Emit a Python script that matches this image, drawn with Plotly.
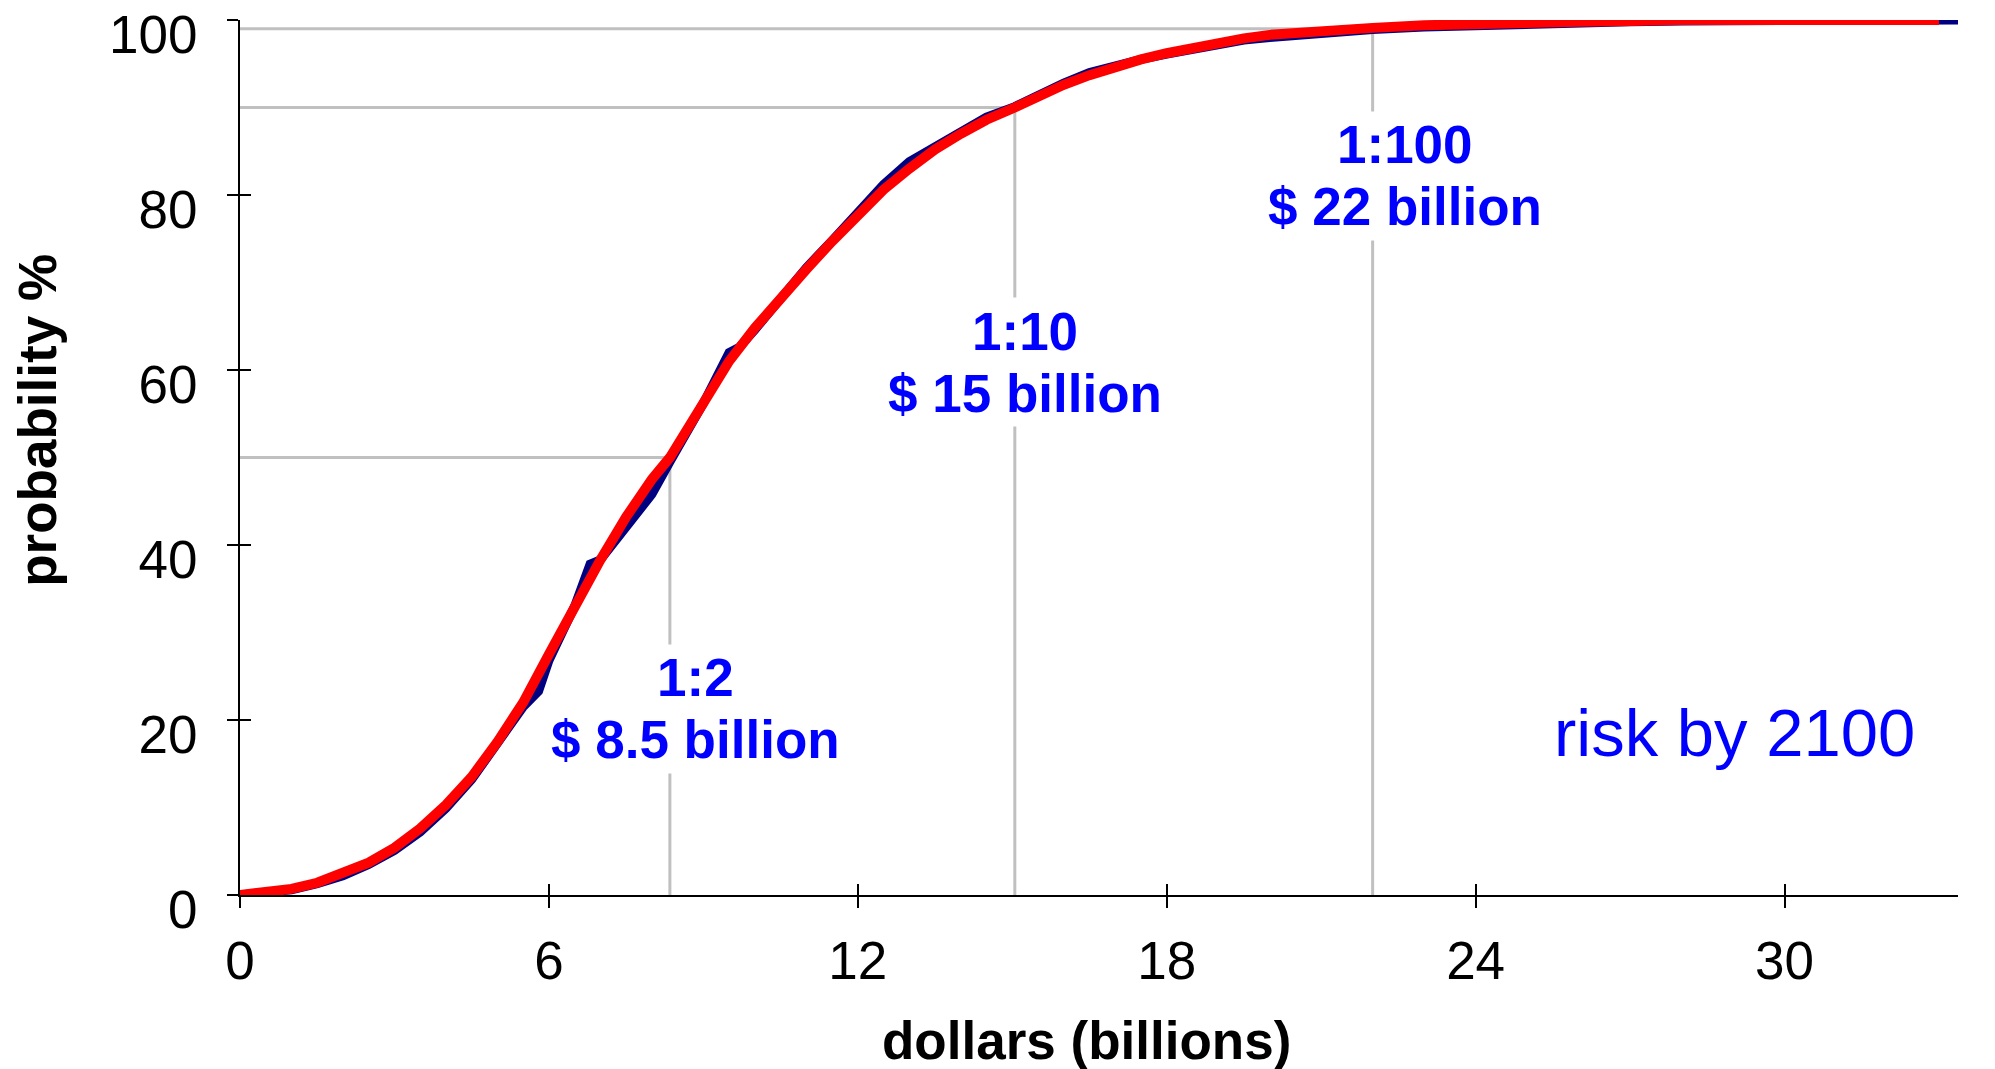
import plotly.graph_objects as go

# ---- data ----
red_x = [0, 0.5, 1.0, 1.5, 2.0, 2.5, 3.0, 3.5, 4.0, 4.5, 5.0, 5.5, 6.0, 6.5, 7.0, 7.5, 8.0, 8.35,
         9.0, 9.5, 10.0, 10.5, 11.0, 11.5, 12.0, 12.5, 13.0, 13.5, 14.0, 14.5, 15.05, 15.5, 16.0,
         16.5, 17.0, 17.5, 18.0, 18.5, 19.0, 19.5, 20.0, 21.0, 22.0, 23.0, 24.0, 25.0, 26.0, 27.0,
         28.0, 33.0]
red_y = [0, 0.3, 0.7, 1.4, 2.4, 3.7, 5.4, 7.6, 10.3, 13.5, 17.5, 22.0, 27.5, 33.0, 38.3, 43.2,
         47.5, 50.0, 56.5, 61.0, 64.8, 68.3, 71.5, 74.7, 77.8, 80.6, 83.0, 85.2, 87.0, 88.6, 90.0,
         91.3, 92.6, 93.7, 94.7, 95.5, 96.2, 96.8, 97.4, 97.9, 98.3, 98.8, 99.1, 99.4, 99.6, 99.7,
         99.8, 99.9, 100, 100]

navy_x = [0, 0.5, 1.0, 1.5, 2.0, 2.5, 3.0, 3.5, 4.0, 4.5, 5.0, 5.5, 5.8, 6.0, 6.5, 6.8, 7.0, 7.5,
          8.0, 8.35, 9.0, 9.5, 9.7, 10.0, 10.5, 11.0, 11.5, 12.0, 12.5, 13.0, 13.5, 14.0, 14.5,
          15.05, 15.5, 16.0, 16.5, 17.0, 17.5, 18.0, 18.5, 19.0, 19.5, 20.0, 21.0, 22.0, 23.0,
          24.0, 25.0, 26.0, 27.0, 28.0, 30.0, 33.9]
navy_y = [0, 0.2, 0.6, 1.3, 2.2, 3.5, 5.1, 7.2, 9.9, 13.2, 17.2, 21.5, 23.3, 26.8, 33.0, 37.8,
          38.3, 42.0, 45.8, 49.5, 56.2, 62.0, 62.6, 64.6, 68.3, 71.7, 74.8, 78.0, 81.2, 83.8,
          85.6, 87.4, 88.9, 90.1, 91.5, 92.8, 94.0, 94.8, 95.5, 96.1, 96.7, 97.2, 97.7, 98.0,
          98.5, 98.9, 99.2, 99.4, 99.6, 99.7, 99.8, 99.9, 100, 100]

threshold_x = [8.35, 15.05, 22.0]
threshold_p = [50, 90, 99]
label_odds = ["1:2", "1:10", "1:100"]
label_cost = ["$ 8.5 billion", "$ 15 billion", "$ 22 billion"]
label_x = [8.84, 15.24, 22.62]
label_y = [21.3, 60.9, 82.2]

x_ticks = [0, 6, 12, 18, 24, 30]
y_ticks = [0, 20, 40, 60, 80, 100]

FONT = "Liberation Sans, Arial, sans-serif"
BLUE = "#0000FF"
GRID = "#C0C0C0"

fig = go.Figure()

fig.add_trace(go.Scatter(x=navy_x, y=navy_y, mode="lines",
                         line=dict(color="#000080", width=9), showlegend=False,
                         hoverinfo="skip"))
fig.add_trace(go.Scatter(x=red_x, y=red_y, mode="lines",
                         line=dict(color="#FF0000", width=10), showlegend=False,
                         hoverinfo="skip"))
# invisible trace to activate the overlay axes (used for crossing ticks)
fig.add_trace(go.Scatter(x=[0], y=[0], xaxis="x2", yaxis="y2", mode="markers",
                         marker=dict(opacity=0), showlegend=False, hoverinfo="skip"))

# reference lines
for tx, tp in zip(threshold_x, threshold_p):
    fig.add_shape(type="line", xref="x", yref="y", x0=0, x1=tx, y0=tp, y1=tp,
                  line=dict(color=GRID, width=3), layer="below")
    fig.add_shape(type="line", xref="x", yref="y", x0=tx, x1=tx, y0=0, y1=tp,
                  line=dict(color=GRID, width=3), layer="below")

# white gaps in the vertical reference lines behind the labels
for tx, ly in zip(threshold_x, label_y):
    fig.add_annotation(x=tx, y=ly, xref="x", yref="y", text=" ", showarrow=False,
                       width=14, height=128, bgcolor="white", borderpad=0,
                       font=dict(size=2))

lab_font = dict(family=FONT, size=53, color=BLUE, weight="bold")
for odds, cost, lx, ly in zip(label_odds, label_cost, label_x, label_y):
    fig.add_annotation(x=lx, y=ly, xref="x", yref="y", text=odds, showarrow=False,
                       yshift=31, font=lab_font)
    fig.add_annotation(x=lx, y=ly, xref="x", yref="y", text=cost, showarrow=False,
                       yshift=-31, font=lab_font)

fig.add_annotation(x=29.02, y=18.57, xref="x", yref="y", text="risk by 2100", showarrow=False,
                   font=dict(family=FONT, size=67, color=BLUE))

# axis titles
fig.add_annotation(x=0, y=54.2, xref="x", yref="y", xshift=-202, text="probability %",
                   textangle=-90, showarrow=False,
                   font=dict(family=FONT, size=53, color="black", weight="bold"))
fig.add_annotation(x=16.45, y=0, xref="x", yref="paper", yshift=-145, yanchor="middle",
                   text="dollars (billions)", showarrow=False,
                   font=dict(family=FONT, size=53, color="black", weight="bold"))

XR = [0, 33.37]
YR = [0, 100]
axis_common = dict(showgrid=False, zeroline=False, linecolor="black", linewidth=2,
                   tickcolor="black", tickwidth=2, ticklen=11, ticks="outside",
                   automargin=False, ticklabeloverflow="allow",
                   tickfont=dict(family=FONT, size=53, color="black"))

fig.update_layout(
    width=1995, height=1069,
    margin=dict(l=232, r=45, t=12, b=182),
    paper_bgcolor="white", plot_bgcolor="white",
    xaxis=dict(range=XR, tickmode="array", tickvals=x_ticks, showline=True,
               ticklabelstandoff=7, **axis_common),
    yaxis=dict(range=YR, tickmode="array", tickvals=y_ticks, showline=True,
               ticklabelstandoff=19, ticklabelshift=14, **axis_common),
    xaxis2=dict(range=XR, overlaying="x", anchor="y", side="bottom", tickmode="array",
                tickvals=x_ticks, ticks="inside", ticklen=11, tickwidth=2, tickcolor="black",
                showticklabels=False, showgrid=False, zeroline=False, showline=False,
                automargin=False),
    yaxis2=dict(range=YR, overlaying="y", anchor="x", side="left", tickmode="array",
                tickvals=y_ticks, ticks="inside", ticklen=11, tickwidth=2, tickcolor="black",
                showticklabels=False, showgrid=False, zeroline=False, showline=False,
                automargin=False),
)

fig.write_html("out.html")
